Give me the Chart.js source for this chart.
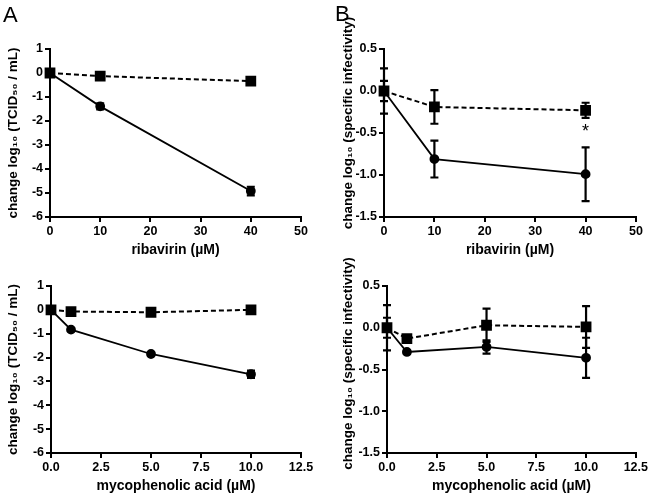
<!DOCTYPE html>
<html>
<head>
<meta charset="utf-8">
<script src="https://cdn.jsdelivr.net/npm/chart.js@4.4.1/dist/chart.umd.min.js"></script>
<style>
  body { margin: 0; background: #fff; width: 650px; height: 495px; position: relative; overflow: hidden; font-family: "Liberation Sans", Arial, sans-serif; }
  canvas { position: absolute; }
  .letter { position: absolute; font-size: 22px; color: #000; line-height: 1; z-index: 2; }
</style>
</head>
<body>
<div class="letter" style="left:3px;top:4px">A</div>
<div class="letter" style="left:335px;top:3px">B</div>
<canvas id="ribaTiter" width="325" height="268" style="left:0;top:0"></canvas>
<canvas id="ribaSI" width="325" height="268" style="left:325px;top:0"></canvas>
<canvas id="mpaTiter" width="325" height="245" style="left:0;top:250px"></canvas>
<canvas id="mpaSI" width="325" height="245" style="left:325px;top:250px"></canvas>
<script>
// doses
const ribavirinDoses = [0, 10, 40]
const mpaDoses = [0, 1, 5, 10]

// A top: titer change, ribavirin
const ribaTiterDrug = [0, -1.39, -4.92]
const ribaTiterDrugErr = [0.05, 0.13, 0.18]
const ribaTiterCtrl = [0, -0.13, -0.34]
const ribaTiterCtrlErr = [0.05, 0.14, 0.08]

// B top: specific infectivity, ribavirin
const ribaSIDrug = [0, -0.81, -0.99]
const ribaSIDrugErr = [0.27, 0.22, 0.32]
const ribaSICtrl = [0, -0.19, -0.23]
const ribaSICtrlErr = [0.12, 0.2, 0.09]

// A bottom: titer change, mycophenolic acid
const mpaTiterDrug = [0, -0.83, -1.85, -2.7]
const mpaTiterDrugErr = [0.05, 0.05, 0.05, 0.15]
const mpaTiterCtrl = [0, -0.07, -0.1, 0]
const mpaTiterCtrlErr = [0.05, 0.05, 0.05, 0.05]

// B bottom: specific infectivity, mycophenolic acid
const mpaSIDrug = [0, -0.29, -0.23, -0.36]
const mpaSIDrugErr = [0.27, 0.02, 0.08, 0.24]
const mpaSICtrl = [0, -0.13, 0.03, 0.01]
const mpaSICtrlErr = [0.12, 0.03, 0.2, 0.25]

// significance marks (x dose, placed above drug error bar)
const ribaSIStars = [40]

const titerLabel = 'change log\u2081\u2080 (TCID\u2085\u2080 / mL)'
const siLabel = 'change log\u2081\u2080 (specific infectivity)'
const ribaLabel = 'ribavirin (\u00b5M)'
const mpaLabel = 'mycophenolic acid (\u00b5M)'

const FONT = '"Liberation Sans", Arial, sans-serif'
const CAP = 4

const toPoints = (xs, ys) => xs.map((x, i) => ({ x, y: ys[i] }))

// draws error bars and asterisks through the chart scales
const errorBarPlugin = {
  id: 'errorBars',
  afterDatasetsDraw(chart) {
    const { ctx, scales: { x, y } } = chart
    ctx.save()
    ctx.strokeStyle = '#000'
    ctx.lineWidth = 2.2
    chart.data.datasets.forEach(ds => {
      if (!ds.errors) return
      ds.data.forEach((p, i) => {
        const e = ds.errors[i]
        const px = x.getPixelForValue(p.x)
        const top = y.getPixelForValue(p.y + e)
        const bot = y.getPixelForValue(p.y - e)
        ctx.beginPath()
        ctx.moveTo(px, top)
        ctx.lineTo(px, bot)
        ctx.moveTo(px - CAP, top)
        ctx.lineTo(px + CAP, top)
        ctx.moveTo(px - CAP, bot)
        ctx.lineTo(px + CAP, bot)
        ctx.stroke()
      })
    })
    const stars = chart.options.plugins.errorBars?.stars || []
    const ds = chart.data.datasets[0]
    stars.forEach(sx => {
      const i = ds.data.findIndex(p => p.x === sx)
      if (i < 0) return
      const p = ds.data[i]
      ctx.fillStyle = '#000'
      ctx.font = '18px ' + FONT
      ctx.textAlign = 'center'
      ctx.textBaseline = 'alphabetic'
      ctx.fillText('*', x.getPixelForValue(p.x), y.getPixelForValue(p.y + ds.errors[i]) - 10)
    })
    ctx.restore()
  },
}

// rotated y-axis title, centred on the plot with an optional nudge
const yTitlePlugin = {
  id: 'yTitle',
  afterDraw(chart) {
    const o = chart.options.plugins.yTitle
    if (!o || !o.text) return
    const { ctx, chartArea, scales: { y } } = chart
    ctx.save()
    ctx.translate(y.left + o.offset, (chartArea.top + chartArea.bottom) / 2 + o.shift)
    ctx.rotate(-Math.PI / 2)
    ctx.font = 'bold 13.5px ' + FONT
    ctx.fillStyle = '#000'
    ctx.textAlign = 'center'
    ctx.textBaseline = 'middle'
    ctx.fillText(o.text, 0, 0)
    ctx.restore()
  },
}

function makePanel(id, cfg) {
  const ctx = document.getElementById(id).getContext('2d')
  return new Chart(ctx, {
    type: 'line',
    data: {
      datasets: [
        {
          data: toPoints(cfg.doses, cfg.drug),
          errors: cfg.drugErr,
          borderColor: '#000',
          backgroundColor: '#000',
          borderWidth: 1.8,
          pointStyle: 'circle',
          pointRadius: 4,
          clip: false,
        },
        {
          data: toPoints(cfg.doses, cfg.ctrl),
          errors: cfg.ctrlErr,
          borderColor: '#000',
          backgroundColor: '#000',
          borderWidth: 2,
          borderDash: [5, 3],
          pointStyle: 'rect',
          pointRadius: 6.2,
          clip: false,
        },
      ],
    },
    options: {
      responsive: false,
      animation: false,
      layout: { padding: { top: cfg.padTop, right: cfg.padRight, left: 0, bottom: 0 } },
      plugins: {
        legend: { display: false },
        tooltip: { enabled: false },
        errorBars: { stars: cfg.stars || [] },
        yTitle: { text: cfg.yTitle, offset: cfg.yTitleX, shift: cfg.yTitleShift },
      },
      scales: {
        x: {
          type: 'linear',
          min: cfg.xMin,
          max: cfg.xMax,
          ticks: {
            stepSize: cfg.xStep,
            color: '#000',
            padding: 2,
            font: { family: FONT, size: 12.5, weight: 'bold' },
            callback: v => (cfg.xDecimals ? v.toFixed(cfg.xDecimals) : String(v)),
          },
          grid: { drawOnChartArea: false, tickLength: 5, color: '#000', lineWidth: 2 },
          border: { color: '#000', width: 2 },
          title: {
            display: true,
            text: cfg.xTitle,
            color: '#000',
            font: { family: FONT, size: 14, weight: 'bold' },
            padding: { top: 0, bottom: cfg.xTitlePad },
          },
          afterFit: s => { s.height = cfg.xHeight },
        },
        y: {
          type: 'linear',
          min: cfg.yMin,
          max: cfg.yMax,
          ticks: {
            stepSize: cfg.yStep,
            color: '#000',
            padding: 2,
            font: { family: FONT, size: 12.5, weight: 'bold' },
            callback: v => (cfg.yDecimals ? v.toFixed(cfg.yDecimals) : String(v)),
          },
          grid: { drawOnChartArea: false, tickLength: 5, color: '#000', lineWidth: 2 },
          border: { color: '#000', width: 2 },
          afterFit: s => { s.width = cfg.yWidth },
        },
      },
    },
    plugins: [errorBarPlugin, yTitlePlugin],
  })
}

makePanel('ribaTiter', {
  doses: ribavirinDoses, drug: ribaTiterDrug, drugErr: ribaTiterDrugErr,
  ctrl: ribaTiterCtrl, ctrlErr: ribaTiterCtrlErr,
  xMin: 0, xMax: 50, xStep: 10, xDecimals: 0,
  yMin: -6, yMax: 1, yStep: 1, yDecimals: 0,
  xTitle: ribaLabel, yTitle: titerLabel,
  yWidth: 50, xHeight: 51, padTop: 49, padRight: 24, xTitlePad: 9, yTitleX: 13, yTitleShift: 0,
})

makePanel('ribaSI', {
  doses: ribavirinDoses, drug: ribaSIDrug, drugErr: ribaSIDrugErr,
  ctrl: ribaSICtrl, ctrlErr: ribaSICtrlErr, stars: ribaSIStars,
  xMin: 0, xMax: 50, xStep: 10, xDecimals: 0,
  yMin: -1.5, yMax: 0.5, yStep: 0.5, yDecimals: 1,
  xTitle: ribaLabel, yTitle: siLabel,
  yWidth: 59, xHeight: 51, padTop: 49, padRight: 14, xTitlePad: 9, yTitleX: 23, yTitleShift: -10,
})

makePanel('mpaTiter', {
  doses: mpaDoses, drug: mpaTiterDrug, drugErr: mpaTiterDrugErr,
  ctrl: mpaTiterCtrl, ctrlErr: mpaTiterCtrlErr,
  xMin: 0, xMax: 12.5, xStep: 2.5, xDecimals: 1,
  yMin: -6, yMax: 1, yStep: 1, yDecimals: 0,
  xTitle: mpaLabel, yTitle: titerLabel,
  yWidth: 51, xHeight: 42, padTop: 36, padRight: 24, xTitlePad: 0, yTitleX: 13, yTitleShift: 0,
})

makePanel('mpaSI', {
  doses: mpaDoses, drug: mpaSIDrug, drugErr: mpaSIDrugErr,
  ctrl: mpaSICtrl, ctrlErr: mpaSICtrlErr,
  xMin: 0, xMax: 12.5, xStep: 2.5, xDecimals: 1,
  yMin: -1.5, yMax: 0.5, yStep: 0.5, yDecimals: 1,
  xTitle: mpaLabel, yTitle: siLabel,
  yWidth: 62, xHeight: 42, padTop: 36, padRight: 13, xTitlePad: 0, yTitleX: 23, yTitleShift: -6,
})
</script>
</body>
</html>
